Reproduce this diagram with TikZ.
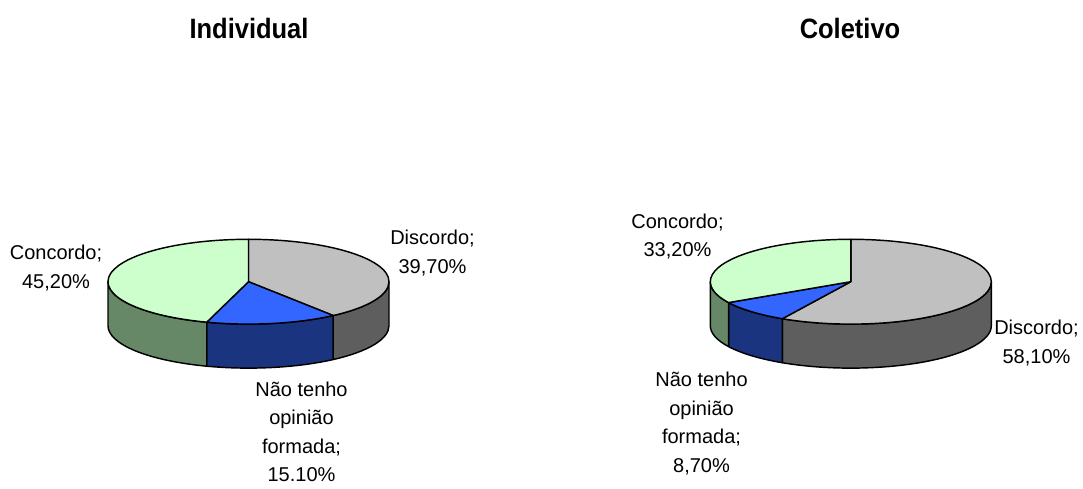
\documentclass[tikz,border=0pt]{standalone}
\usepackage{fontspec}
\setmainfont{Liberation Sans}
\newfontfamily\titlefont[FakeStretch=0.91]{Liberation Sans}
\definecolor{gtop}{HTML}{CCFFCC}
\definecolor{gside}{HTML}{668866}
\definecolor{btop}{HTML}{3366FF}
\definecolor{bside}{HTML}{1B3480}
\definecolor{ytop}{HTML}{C0C0C0}
\definecolor{yside}{HTML}{5E5E5E}
\tikzset{
  pieedge/.style={draw=black, line width=1.45pt, line join=round},
  title/.style={font=\titlefont\bfseries\fontsize{28}{30}\selectfont, anchor=base, inner sep=0pt},
  lbl/.style={font=\fontsize{20}{28.5}\selectfont, align=center, anchor=north, inner sep=0pt}
}
\newcommand\pieside[5]{%
  \filldraw[fill=#5,pieedge] ({#1+140.5*cos(#3)},{#2+42.4*sin(#3)})
    arc[start angle=#3,end angle=#4,x radius=140.5pt,y radius=42.4pt]
    -- ++(0,-44)
    arc[start angle=#4,end angle=#3,x radius=140.5pt,y radius=42.4pt] -- cycle;}
\newcommand\pietop[5]{%
  \filldraw[fill=#5,pieedge] (#1,#2) -- ({#1+140.5*cos(#3)},{#2+42.4*sin(#3)})
    arc[start angle=#3,end angle=#4,x radius=140.5pt,y radius=42.4pt] -- cycle;}
\begin{document}
\begin{tikzpicture}[x=1pt,y=1pt]
\useasboundingbox (0,0) rectangle (1083,488);
% Individual
\pieside{248.5}{206.3}{0}{-52.92}{yside}
\pieside{248.5}{206.3}{-52.92}{-107.28}{bside}
\pieside{248.5}{206.3}{-107.28}{-180}{gside}
\pietop{248.5}{206.3}{90}{-52.92}{ytop}
\pietop{248.5}{206.3}{-52.92}{-107.28}{btop}
\pietop{248.5}{206.3}{-107.28}{-270}{gtop}
% Coletivo
\pieside{850.8}{206.3}{0}{-119.16}{yside}
\pieside{850.8}{206.3}{-119.16}{-150.48}{bside}
\pieside{850.8}{206.3}{-150.48}{-180}{gside}
\pietop{850.8}{206.3}{90}{-119.16}{ytop}
\pietop{850.8}{206.3}{-119.16}{-150.48}{btop}
\pietop{850.8}{206.3}{-150.48}{-270}{gtop}
% titles
\node[title] (t1) at (249,449.7) {Individual};
\node[title] (t2) at (850,449.7) {Coletivo};
% labels
\node[lbl] (l1) at (56,243) {Concordo;\\45,20\%};
\node[lbl] (l2) at (432.5,258) {Discordo;\\39,70\%};
\node[lbl] (l3) at (301.5,106.5) {Não tenho\\opinião\\formada;\\15.10\%};
\node[lbl] (r1) at (677.5,274.5) {Concordo;\\33,20\%};
\node[lbl] (r2) at (1036.5,168) {Discordo;\\58,10\%};
\node[lbl] (r3) at (701.5,116) {Não tenho\\opinião\\formada;\\8,70\%};
\end{tikzpicture}
\end{document}
